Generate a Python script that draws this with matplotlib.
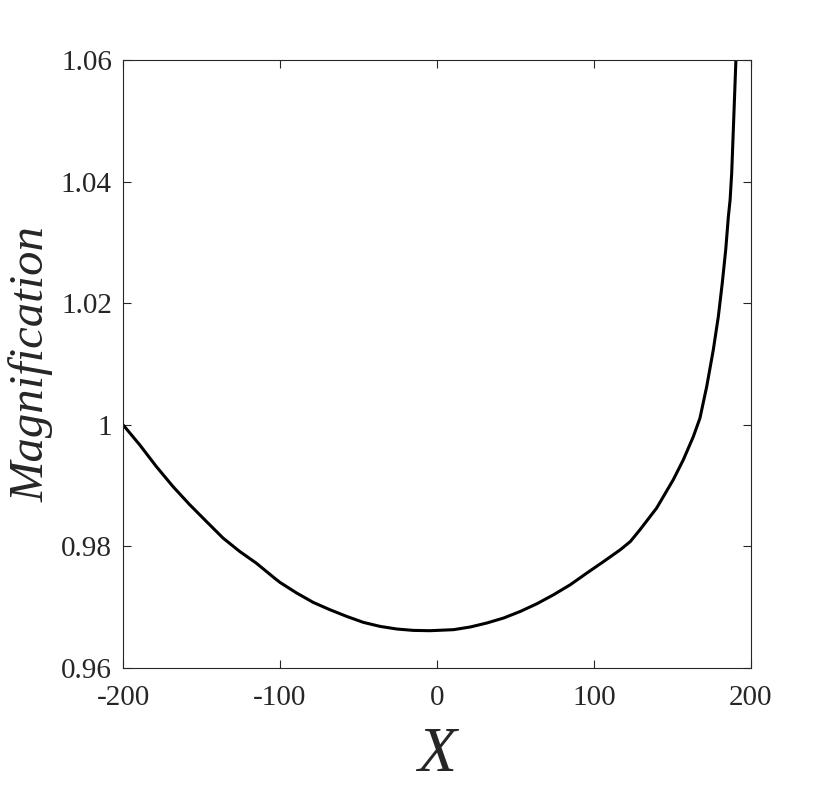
import numpy as np
import matplotlib
matplotlib.use('Agg')
import matplotlib.pyplot as plt

plt.rcParams['font.family'] = ['Liberation Serif', 'DejaVu Serif']
plt.rcParams['axes.unicode_minus'] = False

# curve
X_values = [-200.0, -189.4, -178.8, -168.2, -157.5, -146.9, -136.3, -125.7, -115.1, -103.4,
            -100.0, -89.4, -78.8, -68.2, -57.5, -46.9, -36.3, -25.7, -15.1, -4.5,
            0.0, 10.6, 21.2, 31.8, 42.5, 53.1, 63.7, 74.3, 84.9, 95.5,
            106.2, 116.8, 123.2, 129.3, 139.9, 150.5, 156.9, 163.3, 167.5, 171.8,
            176.0, 179.2, 181.7, 183.9, 185.6, 186.7, 187.7, 188.5, 189.3, 190.4]
M_values = [1.0000, 0.99671, 0.99314, 0.98985, 0.98685, 0.98410, 0.98137, 0.97917, 0.97724, 0.97476,
            0.97407, 0.97233, 0.97078, 0.96958, 0.96848, 0.96750, 0.96684, 0.96641, 0.96618, 0.96613,
            0.96618, 0.96630, 0.96674, 0.96740, 0.96822, 0.96930, 0.97057, 0.97205, 0.97369, 0.97562,
            0.97752, 0.97945, 0.98081, 0.98274, 0.98630, 0.99096, 0.99424, 0.99807, 1.00110, 1.00629,
            1.01233, 1.01780, 1.02329, 1.02877, 1.03424, 1.03699, 1.04130, 1.04680, 1.05230, 1.06000]

x_ticks = [-200, -100, 0, 100, 200]
x_ticklabels = ['-200', '-100', '0', '100', '200']
y_ticks = [0.96, 0.98, 1.0, 1.02, 1.04, 1.06]
y_ticklabels = ['0.96', '0.98', '1', '1.02', '1.04', '1.06']

fig = plt.figure(figsize=(8.3, 7.89), dpi=100)
ax = fig.add_axes([0.1482, 0.1534, 0.7566, 0.7706])

ax.plot(X_values, M_values, color='black', linewidth=2.2, solid_joinstyle='round')

ax.set_xlim(-200, 200)
ax.set_ylim(0.96, 1.06)
ax.set_xticks(x_ticks)
ax.set_xticklabels(x_ticklabels)
ax.set_yticks(y_ticks)
ax.set_yticklabels(y_ticklabels)

for s in ax.spines.values():
    s.set_color('#262626')
    s.set_linewidth(0.8)
ax.tick_params(direction='in', length=6, width=0.8, color='#262626',
               top=True, right=True, labelsize=21, labelcolor='#262626')
ax.tick_params(axis='x', pad=12)
ax.tick_params(axis='y', pad=8)

ax.set_xlabel('X', fontsize=46, fontstyle='italic', color='#262626', labelpad=12)
ax.set_ylabel('Magnification', fontsize=35, fontstyle='italic', color='#262626', labelpad=5)

plt.savefig('out.png', dpi=100)
